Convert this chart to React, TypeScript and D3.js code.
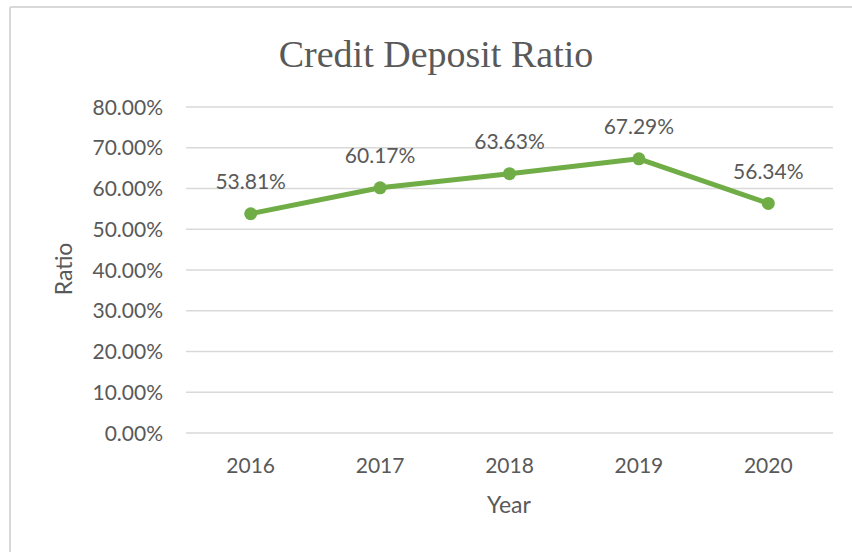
import React from "react";
import * as d3 from "d3";

const years = ["2016", "2017", "2018", "2019", "2020"];
const ratios = [53.81, 60.17, 63.63, 67.29, 56.34];
const yTicks = [0, 10, 20, 30, 40, 50, 60, 70, 80];

const W = 852;
const H = 552;
const FONT = "Lato, 'Open Sans', sans-serif";
const GRAY = "#595959";
const GREEN = "#70AD47";

export default function App() {
  const x = d3.scaleBand<string>().domain(years).range([186, 833]);
  const y = d3.scaleLinear().domain([0, 80]).range([433, 107]);
  const line = d3
    .line<number>()
    .x((_, i) => (x(years[i]) as number) + x.bandwidth() / 2)
    .y((d) => y(d));

  return (
    <svg
      width={W}
      height={H}
      style={{ position: "absolute", left: 0, top: 0, background: "#fff" }}
    >
      <rect x={0} y={0} width={W} height={H} fill="#fff" />
      <line x1={10} x2={W} y1={7} y2={7} stroke="#d9d9d9" strokeWidth={2} />
      <line x1={10} x2={10} y1={7} y2={H} stroke="#d9d9d9" strokeWidth={2} />

      <text
        x={436}
        y={67}
        textAnchor="middle"
        fontFamily="'Liberation Serif', 'Times New Roman', serif"
        fontSize={38}
        fill={GRAY}
      >
        Credit Deposit Ratio
      </text>

      {yTicks.map((t) => (
        <g key={t}>
          <line x1={186} x2={833} y1={y(t)} y2={y(t)} stroke="#d9d9d9" strokeWidth={1.5} />
          <text
            x={163}
            y={y(t)}
            dy="0.36em"
            textAnchor="end"
            fontFamily={FONT}
            fontSize={21}
            fill={GRAY}
          >
            {t.toFixed(2)}%
          </text>
        </g>
      ))}

      {years.map((yr) => (
        <text
          key={yr}
          x={(x(yr) as number) + x.bandwidth() / 2}
          y={465}
          dy="0.36em"
          textAnchor="middle"
          fontFamily={FONT}
          fontSize={21}
          fill={GRAY}
        >
          {yr}
        </text>
      ))}

      <text
        x={509}
        y={505}
        dy="0.36em"
        textAnchor="middle"
        fontFamily={FONT}
        fontSize={23}
        fill={GRAY}
      >
        Year
      </text>
      <text
        transform="translate(64,269) rotate(-90)"
        dy="0.36em"
        textAnchor="middle"
        fontFamily={FONT}
        fontSize={23}
        fill={GRAY}
      >
        Ratio
      </text>

      <path
        d={line(ratios) || ""}
        fill="none"
        stroke={GREEN}
        strokeWidth={5}
        strokeLinejoin="round"
        strokeLinecap="round"
      />
      {ratios.map((v, i) => {
        const cx = (x(years[i]) as number) + x.bandwidth() / 2;
        return (
          <g key={i}>
            <circle cx={cx} cy={y(v)} r={6.5} fill={GREEN} />
            <text
              x={cx}
              y={y(v) - 32}
              dy="0.36em"
              textAnchor="middle"
              fontFamily={FONT}
              fontSize={21}
              fill={GRAY}
            >
              {v.toFixed(2)}%
            </text>
          </g>
        );
      })}
    </svg>
  );
}
